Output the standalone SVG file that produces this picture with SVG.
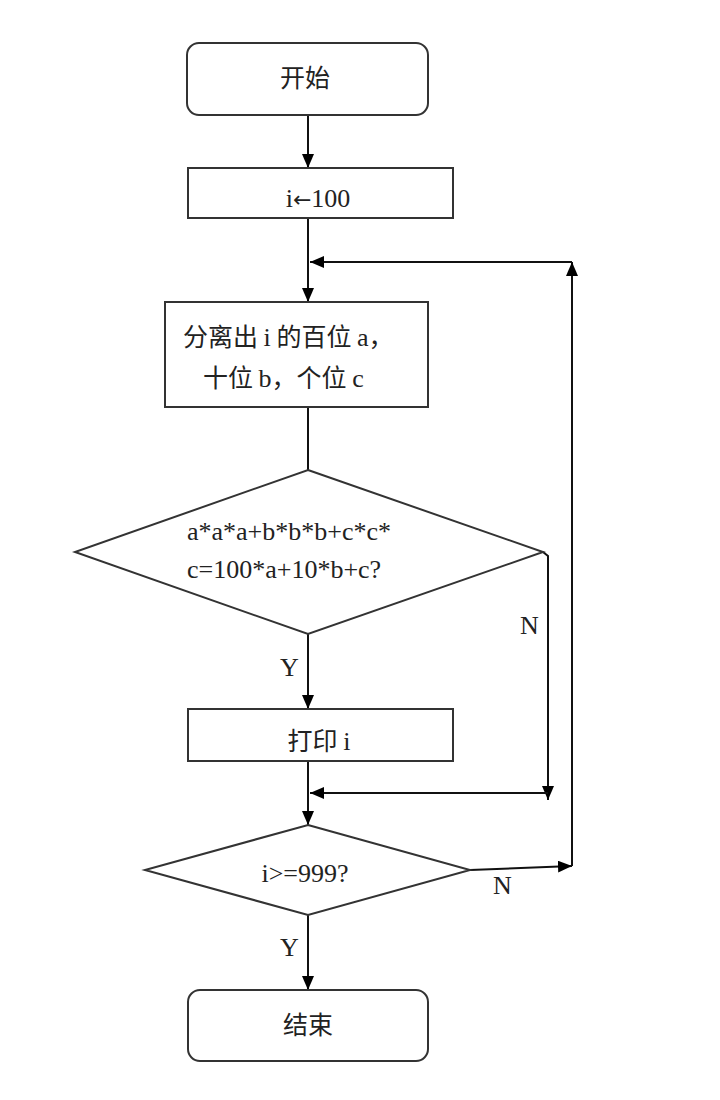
<svg xmlns="http://www.w3.org/2000/svg" width="720" height="1100" viewBox="0 0 720 1100">
<defs>
<marker id="ah" viewBox="0 0 14 12" refX="14" refY="6" markerWidth="14" markerHeight="12" markerUnits="userSpaceOnUse" orient="auto">
<path d="M0,0 L14,6 L0,12 Z" fill="#000"/>
</marker>
</defs>
<style>
.shape{fill:#fff;stroke:#333;stroke-width:2}
.line{fill:none;stroke:#111;stroke-width:2}
.cjk{font-family:"Noto Sans CJK SC","Liberation Serif",sans-serif;font-size:25px;fill:#222}
.lat{font-family:"Liberation Serif","Noto Sans CJK SC",serif;font-size:26px;fill:#222}
.arr{font-family:"DejaVu Sans",sans-serif;font-size:22px}
</style>
<rect width="720" height="1100" fill="#fff"/>
<g id="connectors">
<line class="line" x1="308" y1="115" x2="308" y2="168" marker-end="url(#ah)"/>
<line class="line" x1="308" y1="218" x2="308" y2="302" marker-end="url(#ah)"/>
<line class="line" x1="572" y1="262" x2="310" y2="262" marker-end="url(#ah)"/>
<line class="line" x1="308" y1="407" x2="308" y2="470"/>
<line class="line" x1="308" y1="634" x2="308" y2="709" marker-end="url(#ah)"/>
<polyline class="line" points="543,552 548,556 548,800" marker-end="url(#ah)"/>
<line class="line" x1="308" y1="761" x2="308" y2="825" marker-end="url(#ah)"/>
<line class="line" x1="548" y1="793" x2="310" y2="793" marker-end="url(#ah)"/>
<line class="line" x1="470" y1="870" x2="572" y2="866" marker-end="url(#ah)"/>
<line class="line" x1="572" y1="866" x2="572" y2="262" marker-end="url(#ah)"/>
<line class="line" x1="308" y1="915" x2="308" y2="990" marker-end="url(#ah)"/>
<text class="lat" x="520" y="634">N</text>
<text class="lat" x="280" y="676">Y</text>
<text class="lat" x="493" y="894">N</text>
<text class="lat" x="280" y="956">Y</text>
</g>
<g id="start">
<rect class="shape" x="187" y="43" width="241" height="72" rx="12"/>
<text class="cjk" x="305" y="87" text-anchor="middle">开始</text>
</g>
<g id="init">
<rect class="shape" x="188" y="168" width="265" height="50"/>
<text class="lat" x="318" y="207" text-anchor="middle">i<tspan class="arr">←</tspan>100</text>
</g>
<g id="split">
<rect class="shape" x="165" y="302" width="263" height="105"/>
<text class="cjk" x="183" y="346">分离出 <tspan class="lat">i</tspan> 的百位 <tspan class="lat">a</tspan>，</text>
<text class="cjk" x="203" y="387">十位 <tspan class="lat">b</tspan>，个位 <tspan class="lat">c</tspan></text>
</g>
<g id="check">
<polygon class="shape" points="308,470 543,552 308,634 75,552"/>
<text class="lat" x="187" y="540">a*a*a+b*b*b+c*c*</text>
<text class="lat" x="187" y="578">c=100*a+10*b+c?</text>
</g>
<g id="print">
<rect class="shape" x="188" y="709" width="265" height="52"/>
<text class="cjk" x="319" y="750" text-anchor="middle">打印 <tspan class="lat">i</tspan></text>
</g>
<g id="loop">
<polygon class="shape" points="308,825 470,870 308,915 145,870"/>
<text class="lat" x="305" y="882" text-anchor="middle">i&gt;=999?</text>
</g>
<g id="end">
<rect class="shape" x="188" y="990" width="240" height="71" rx="12"/>
<text class="cjk" x="308" y="1034" text-anchor="middle">结束</text>
</g>
</svg>
